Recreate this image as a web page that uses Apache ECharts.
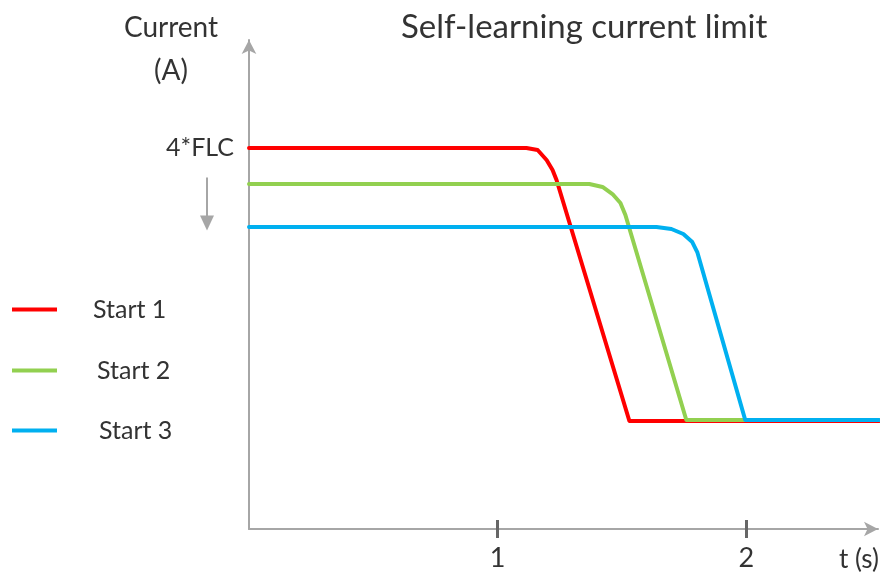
<!DOCTYPE html>
<html><head><meta charset="utf-8">
<script src="https://cdn.jsdelivr.net/npm/echarts@6/dist/echarts.min.js"></script>
<style>html,body{margin:0;padding:0;background:#fff}#c{width:882px;height:579px}</style>
</head><body><div id="c"></div>
<script>
// Series data: [time (s), current (relative units, 4 = 4*FLC)]
const start1 = [[0,4.0],[1.116,4.0],[1.161,3.979],[1.197,3.874],[1.221,3.769],[1.237,3.664],[1.530,1.134],[2.534,1.134]];
const start2 = [[0,3.622],[1.369,3.622],[1.422,3.591],[1.462,3.517],[1.494,3.423],[1.514,3.297],[1.759,1.144],[2.534,1.144]];
const start3 = [[0,3.171],[1.639,3.171],[1.699,3.150],[1.747,3.097],[1.783,3.013],[1.803,2.908],[1.996,1.144],[2.534,1.144]];
const seriesNames = ['Start 1','Start 2','Start 3'];
const seriesColors = ['#ff0000','#92d050','#00b0f0'];
const xTickLabels = {1:'1', 2:'2'};
const yTickLabels = {4:'4*FLC'};
const titleText = 'Self-learning current limit';
const xName = 't (s)';
const yName = 'Current\n(A)';

const FONT = 'Lato';
const chart = echarts.init(document.getElementById('c'), null, {renderer:'canvas'});
const legendPad = [31,35,37];
const legendTop = [297,358,418];
const option = {
  animation:false,
  backgroundColor:'#fff',
  title:{text:titleText,left:396,top:6,textStyle:{fontFamily:FONT,fontSize:33,fontWeight:'normal',color:'#333'}},
  grid:{left:249,top:40,width:630,bottom:50,containLabel:false},
  legend: seriesNames.map((n,i)=>({
    data:[n],left:12,top:legendTop[i],padding:0,icon:'rect',itemWidth:45,itemHeight:4,
    selectedMode:false,
    textStyle:{fontFamily:FONT,fontSize:25,color:'#333',padding:[0,0,0,legendPad[i]]}
  })),
  xAxis:[{
    type:'value',min:0,max:2.53,interval:1,
    axisLine:{lineStyle:{color:'#a6a6a6',width:2},symbol:['none','arrow'],symbolSize:[11,14]},
    axisTick:{show:true,length:9,lineStyle:{color:'#666',width:3},
      customValues:[1,2]},
    axisLabel:{fontFamily:FONT,fontSize:27,color:'#333',margin:16,
      customValues:[1,2],formatter:v=>xTickLabels[v]||''},
    splitLine:{show:false},
    name:xName,nameLocation:'end',nameGap:1,
    nameTextStyle:{fontFamily:FONT,fontSize:26,color:'#333',align:'right',verticalAlign:'top',padding:[18,0,0,0]}
  },{
    type:'value',min:0,max:2.53,interval:1,position:'bottom',
    axisLine:{show:false},
    axisTick:{show:true,inside:true,length:9,lineStyle:{color:'#666',width:3},customValues:[1,2]},
    axisLabel:{show:false},splitLine:{show:false}
  }],
  yAxis:{
    type:'value',min:0,max:5.134,interval:1,
    axisLine:{show:true,lineStyle:{color:'#a6a6a6',width:2},symbol:['none','arrow'],symbolSize:[11,14]},
    axisTick:{show:false},
    axisLabel:{fontFamily:FONT,fontSize:25,color:'#333',margin:15,
      customValues:[4],formatter:v=>yTickLabels[v]||''},
    splitLine:{show:false},
    name:yName,nameLocation:'end',nameGap:34,
    nameTextStyle:{fontFamily:FONT,fontSize:28,color:'#333',align:'center',verticalAlign:'top',lineHeight:43,padding:[0,156,0,0]}
  },
  graphic:[{
    type:'group',left:200,top:175,children:[
      {type:'line',shape:{x1:7,y1:0,x2:7,y2:42},style:{stroke:'#a6a6a6',lineWidth:2}},
      {type:'polygon',shape:{points:[[0,38],[14,38],[7,53]]},style:{fill:'#a6a6a6'}}
    ]
  }],
  series:[start1,start2,start3].map((d,i)=>({
    name:seriesNames[i],type:'line',data:d,showSymbol:false,symbol:'none',
    lineStyle:{color:seriesColors[i],width:4,cap:'round',join:'round'},itemStyle:{color:seriesColors[i]},z:2+i
  }))
};
chart.setOption(option);
</script></body></html>
